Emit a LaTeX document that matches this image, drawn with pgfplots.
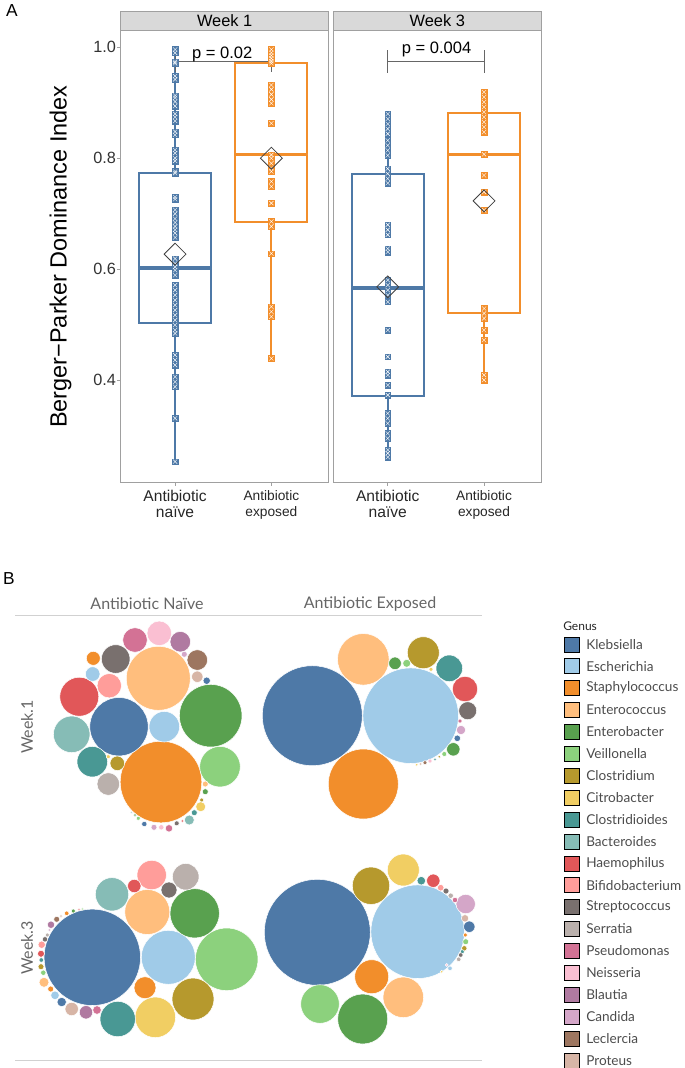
\documentclass[border=0pt]{standalone}
\usepackage{fontspec}
\setmainfont{Liberation Sans}
\newfontfamily\tabfont{Lato}
\usepackage{pgfplots}
\usepackage{pgfplotstable}
\pgfplotsset{compat=1.18}
\usepgfplotslibrary{statistics}

\definecolor{cb}{HTML}{4E79A7}
\definecolor{co}{HTML}{F28E2B}
\definecolor{fr}{HTML}{A0A0A0}
\definecolor{stripc}{HTML}{D9D9D9}
\definecolor{g0}{HTML}{4E79A7}
\definecolor{g1}{HTML}{A0CBE8}
\definecolor{g2}{HTML}{F28E2B}
\definecolor{g3}{HTML}{FFBE7D}
\definecolor{g4}{HTML}{59A14F}
\definecolor{g5}{HTML}{8CD17D}
\definecolor{g6}{HTML}{B6992D}
\definecolor{g7}{HTML}{F1CE63}
\definecolor{g8}{HTML}{499894}
\definecolor{g9}{HTML}{86BCB6}
\definecolor{g10}{HTML}{E15759}
\definecolor{g11}{HTML}{FF9D9A}
\definecolor{g12}{HTML}{79706E}
\definecolor{g13}{HTML}{BAB0AC}
\definecolor{g14}{HTML}{D37295}
\definecolor{g15}{HTML}{FABFD2}
\definecolor{g16}{HTML}{B07AA1}
\definecolor{g17}{HTML}{D4A6C8}
\definecolor{g18}{HTML}{9D7660}
\definecolor{g19}{HTML}{D7B5A6}

% ---------- Panel A data ----------
\pgfplotstableread{
y
0.996
0.990
0.974
0.971
0.948
0.942
0.913
0.909
0.902
0.894
0.880
0.874
0.867
0.848
0.842
0.815
0.809
0.800
0.795
0.776
0.773
0.730
0.726
0.707
0.700
0.691
0.684
0.677
0.671
0.665
0.657
0.619
0.610
0.604
0.598
0.589
0.571
0.562
0.553
0.544
0.535
0.526
0.517
0.508
0.499
0.490
0.484
0.445
0.436
0.427
0.406
0.397
0.388
0.331
0.253
}\wonenaive

\pgfplotstableread{
y
0.996
0.990
0.985
0.980
0.975
0.971
0.932
0.924
0.915
0.906
0.899
0.863
0.806
0.800
0.791
0.782
0.776
0.758
0.749
0.719
0.686
0.677
0.628
0.532
0.523
0.514
0.439
}\woneexp

\pgfplotstableread{
y
0.880
0.871
0.862
0.853
0.844
0.832
0.823
0.814
0.805
0.781
0.772
0.763
0.755
0.680
0.671
0.662
0.637
0.631
0.580
0.571
0.562
0.553
0.541
0.490
0.442
0.415
0.409
0.391
0.373
0.340
0.331
0.322
0.304
0.295
0.274
0.268
0.261
}\wthreenaive

\pgfplotstableread{
y
0.919
0.910
0.901
0.892
0.883
0.874
0.865
0.856
0.847
0.807
0.769
0.739
0.706
0.529
0.520
0.511
0.490
0.472
0.409
0.400
}\wthreeexp

% ---------- Panel B data (pixel coordinates, radius in px, colour class) ----------
\pgfplotstableread{
x y r c
161 782 40.8 c2
158.3 678.3 32 c3
119 726.7 29.2 c0
164.3 726.7 15.3 c1
210.7 715.7 31.3 c4
220 766.7 20.3 c5
71.7 734.3 18.3 c9
79.3 696.7 19.5 c10
109.3 685.7 12.2 c11
92.7 674 7.3 c1
93.3 658.3 7 c2
115.7 659 14.3 c12
135 640 12.3 c14
159.3 633.3 12.3 c15
180.3 641.7 10.3 c16
184.3 654.3 3 c17
197.3 660 10.3 c18
197.3 676.7 5.7 c19
206.7 680.7 3.7 c0
92.3 761.7 15.3 c8
117.3 763.3 7.3 c6
108.3 756.7 2 c7
108.3 784 11.3 c13
205.3 784 3 c3
205.3 791.7 3 c4
201.7 800 2 c6
200.7 806.7 5 c7
194.3 812.7 3 c8
189.3 820 5 c9
182.3 821 1.5 c10
176.7 823.3 2.5 c12
169 828.3 3.7 c14
161.3 827.3 2.7 c15
154 827.3 3 c17
144.3 824 2.7 c0
138.3 818.3 2 c5
135 815 1.5 c4
131.7 812.7 1 c8
312.3 715.7 50 c0
410.7 715.7 47.8 c1
363.3 784 35 c2
363.3 659.3 25.8 c3
423.3 652.7 16 c6
449.3 668.3 13.3 c8
465 689 12.7 c10
467.7 710.7 9 c12
395 663.3 6.3 c4
406.7 663.3 4 c5
431 669.3 2 c7
461 730 4.7 c17
460 721 2 c14
457.3 738.3 3.3 c0
453.3 749.3 6.7 c4
444.3 754 2.5 c5
439.3 756.7 1.5 c6
435 759.3 1.5 c8
430 761 2 c15
425 762.7 2 c18
420.7 764 1.5 c19
416.7 764.7 1.5 c7
92.3 957.3 48.2 c0
168.3 957.3 27 c1
226.7 959.3 31.3 c5
194.7 913.3 24.7 c4
147.3 912 22.5 c3
112 894.3 16.7 c9
151.7 875 14.7 c11
185.7 876.7 13.3 c13
169 890 8 c12
134.3 886 6.7 c10
193 999 21 c6
155.3 1017.3 20.3 c7
117.7 1019 17.7 c8
145 987.7 11 c2
86 1012.3 6.7 c16
97 1010 4.3 c14
71.7 1009 6.7 c19
61.7 1002 4.7 c0
55 995.3 4.3 c1
50.7 989 3 c2
44 982.3 5 c3
43.3 972.7 2.7 c5
41 966.7 3 c6
41.3 960 2.3 c8
41 953.7 3.5 c10
41.7 944.7 3.7 c11
45 939.3 2.7 c12
47.3 935 2 c13
49.3 930 1.5 c17
51 924.7 3.7 c16
56.7 919.3 3 c18
61 916 1.5 c19
66.7 913.3 2.3 c2
73.3 911 2 c4
79 909.3 1.3 c10
82.7 909 1.3 c5
317.3 932.3 53 c0
417.7 931.7 46.8 c1
371 885.7 18.7 c6
403.3 870 16 c7
371.7 976.7 17 c2
403.3 997.3 20.3 c3
362.7 1019 25 c4
320 1004 19.3 c5
465.7 904 9.7 c17
469.3 926.7 5.7 c0
433.3 880.7 6.7 c10
421.3 880.7 4.3 c8
440.7 887.7 3.3 c11
446 891 3 c12
450.7 895.7 2.7 c13
455 900 2.7 c14
465 918.3 3.7 c19
465.3 935 2 c2
465.7 941.7 3 c5
464.3 948.3 2.7 c6
462.3 951.7 2 c8
460.7 955 2.3 c12
458.7 959.3 2.3 c13
450 968.3 2.3 c1
446.7 965 1.5 c15
441.7 971.7 1.5 c7
}\bubbles

\pgfplotstableread{
x y c
572.2 644.3 c0
572.2 666.2 c1
572.2 688.1 c2
572.2 710.0 c3
572.2 731.9 c4
572.2 753.8 c5
572.2 775.7 c6
572.2 797.6 c7
572.2 819.5 c8
572.2 841.4 c9
572.2 863.3 c10
572.2 885.2 c11
572.2 907.1 c12
572.2 929.0 c13
572.2 950.9 c14
572.2 972.8 c15
572.2 994.7 c16
572.2 1016.6 c17
572.2 1038.5 c18
572.2 1060.4 c19
}\swatch

\pgfplotsset{
  panelA/.style={
    scale only axis, width=156pt, height=338.5pt,
    xmin=0.435, xmax=2.595, ymin=0.2157, ymax=1.0294,
    axis line style={fr, line width=0.8pt},
    tick style={fr, line width=0.6pt},
    tick align=outside, major tick length=2.5pt,
    xtick={1,2}, xtick pos=bottom, ytick pos=left,
    xticklabels={{{\fontsize{11.7}{13.5}\selectfont Antibiotic}\\{\fontsize{11.7}{13.5}\selectfont naïve}},{{\fontsize{10.3}{12.5}\selectfont Antibiotic}\\{\fontsize{10.3}{12.5}\selectfont exposed}}},
    xticklabel style={align=center, text=black!85},
    /pgf/number format/assume math mode=true,
    every axis title/.style={at={(0.5,1)}, anchor=south, fill=stripc, draw=fr,
      line width=0.8pt, minimum width=156pt, minimum height=14.5pt, inner sep=0pt,
      font=\fontsize{12.3}{14}\selectfont},
    clip=false,
  },
  pts/.style={only marks, mark=square*, mark size=2.1pt, mark options={fill=#1, draw=#1, line width=0.3pt}},
  ptx/.style={only marks, mark=x, mark size=2.2pt, mark options={draw=white, line width=0.3pt}},
  meanmark/.style={only marks, mark=square, fill=none, mark size=5.8pt, mark options={rotate=45, draw=black!75, line width=0.6pt, fill=none}},
  brk/.style={black!60, line width=0.75pt},
  genus classes/.style={scatter/classes={
    c0={fill=g0}, c1={fill=g1}, c2={fill=g2}, c3={fill=g3}, c4={fill=g4},
    c5={fill=g5}, c6={fill=g6}, c7={fill=g7}, c8={fill=g8}, c9={fill=g9},
    c10={fill=g10}, c11={fill=g11}, c12={fill=g12}, c13={fill=g13}, c14={fill=g14},
    c15={fill=g15}, c16={fill=g16}, c17={fill=g17}, c18={fill=g18}, c19={fill=g19}}},
  bx/.style={line width=1.5pt, fill=white, boxplot/draw direction=y,
    boxplot/every box/.style={line width=1.5pt},
    boxplot/every whisker/.style={line width=1.5pt},
    boxplot/every median/.style={line width=2.6pt}},
}

\begin{document}
\begin{tikzpicture}
\useasboundingbox (0,0) rectangle (513.75pt,-801pt);

% ---------------- Week 1 ----------------
\begin{axis}[panelA, at={(90.5pt,-361.7pt)}, anchor=south west,
  title={Week 1},
  ytick={0.4,0.6,0.8,1.0}, yticklabels={0.4,0.6,0.8,1.0},
  yticklabel style={font=\fontsize{12.2}{14}\selectfont, text=black!80, xshift=2.5pt},
  ylabel={Berger\textminus Parker Dominance Index},
  ylabel style={at={(axis description cs:-0.289,0.5)}, anchor=center, font=\fontsize{17.6}{20}\selectfont},
]
\addplot[bx, draw=cb, boxplot prepared={draw position=1, box extend=0.75, whisker extend=0,
  median=0.602, upper quartile=0.774, lower quartile=0.503, upper whisker=0.998, lower whisker=0.252}] coordinates {};
\addplot[bx, draw=co, boxplot prepared={draw position=2, box extend=0.75, whisker extend=0,
  median=0.807, upper quartile=0.971, lower quartile=0.685, upper whisker=0.998, lower whisker=0.437}] coordinates {};
\addplot[pts=cb] table[x expr=1, y=y] {\wonenaive};
\addplot[ptx] table[x expr=1, y=y] {\wonenaive};
\addplot[pts=co] table[x expr=2, y=y] {\woneexp};
\addplot[ptx] table[x expr=2, y=y] {\woneexp};
\addplot[meanmark] coordinates {(1,0.627) (2,0.800)};
\addplot[brk] coordinates {(1,0.995) (1,0.955)};
\addplot[brk] coordinates {(1,0.975) (2,0.975)};
\addplot[brk] coordinates {(2,0.995) (2,0.955)};
\node[anchor=base, font=\fontsize{12.4}{14}\selectfont, inner sep=0pt] at (axis cs:1.49,0.980) {p = 0.02};
\end{axis}

% ---------------- Week 3 ----------------
\begin{axis}[panelA, at={(250pt,-361.7pt)}, anchor=south west,
  title={Week 3},
  ytick=\empty,
]
\addplot[bx, draw=cb, boxplot prepared={draw position=1, box extend=0.75, whisker extend=0,
  median=0.566, upper quartile=0.771, lower quartile=0.372, upper whisker=0.880, lower whisker=0.259}] coordinates {};
\addplot[bx, draw=co, boxplot prepared={draw position=2, box extend=0.75, whisker extend=0,
  median=0.807, upper quartile=0.882, lower quartile=0.520, upper whisker=0.924, lower whisker=0.397}] coordinates {};
\addplot[pts=cb] table[x expr=1, y=y] {\wthreenaive};
\addplot[ptx] table[x expr=1, y=y] {\wthreenaive};
\addplot[pts=co] table[x expr=2, y=y] {\wthreeexp};
\addplot[ptx] table[x expr=2, y=y] {\wthreeexp};
\addplot[meanmark] coordinates {(1,0.568) (2,0.723)};
\addplot[brk] coordinates {(1,0.995) (1,0.954)};
\addplot[brk] coordinates {(1,0.974) (2,0.974)};
\addplot[brk] coordinates {(2,0.995) (2,0.954)};
\node[anchor=base, font=\fontsize{12.4}{14}\selectfont, inner sep=0pt] at (axis cs:1.507,0.989) {p = 0.004};
\end{axis}

% ---------------- Panel B bubbles ----------------
\begin{axis}[at={(0pt,-416.25pt)}, anchor=north west,
  x=0.75pt, y=0.75pt, y dir=reverse,
  xmin=0, xmax=685, ymin=555, ymax=1068,
  hide axis, clip=false,
]
\addplot[scatter, only marks, mark=*, mark options={draw=white, line width=0.4pt},
  point meta=explicit symbolic, genus classes,
  visualization depends on={\thisrow{r}\as\rad},
  scatter/@pre marker code/.append style={/tikz/mark size=0.75*\rad}]
  table[x=x, y=y, meta=c] {\bubbles};
\addplot[scatter, only marks, mark=square*, mark size=5.6pt, mark options={draw=none},
  point meta=explicit symbolic, genus classes]
  table[x=x, y=y, meta=c] {\swatch};
\end{axis}

% ---------------- text and frame lines ----------------
\begin{scope}[x=0.75pt, y=-0.75pt]
\node[font=\fontsize{13}{15}\selectfont] at (12,11) {A};
\node[font=\fontsize{13}{15}\selectfont] at (9,579) {B};
\draw[black!18, line width=0.75pt] (15,615) -- (482,615);
\draw[black!18, line width=0.75pt] (15,1060) -- (482,1060);
\node[font=\tabfont\fontsize{12}{14}\selectfont, text=black!60] at (147,604) {Antibiotic Naïve};
\node[font=\tabfont\fontsize{12}{14}\selectfont, text=black!60] at (370,604) {Antibiotic Exposed};
\node[font=\tabfont\fontsize{12}{14}\selectfont, text=black!60, rotate=90] at (27,727) {Week.1};
\node[font=\tabfont\fontsize{12}{14}\selectfont, text=black!60, rotate=90] at (27,948) {Week.3};
\node[font=\tabfont\fontsize{9}{11}\selectfont, text=black!85, anchor=west, inner sep=0pt] at (563,626) {Genus};
\begin{scope}[every node/.style={font=\tabfont\fontsize{10.2}{12}\selectfont, text=black!70, anchor=west, inner sep=0pt}]
\node at (586,644.3) {Klebsiella};
\node at (586,666.2) {Escherichia};
\node at (586,688.1) {Staphylococcus};
\node at (586,710.0) {Enterococcus};
\node at (586,731.9) {Enterobacter};
\node at (586,753.8) {Veillonella};
\node at (586,775.7) {Clostridium};
\node at (586,797.6) {Citrobacter};
\node at (586,819.5) {Clostridioides};
\node at (586,841.4) {Bacteroides};
\node at (586,863.3) {Haemophilus};
\node at (586,885.2) {Bifidobacterium};
\node at (586,907.1) {Streptococcus};
\node at (586,929.0) {Serratia};
\node at (586,950.9) {Pseudomonas};
\node at (586,972.8) {Neisseria};
\node at (586,994.7) {Blautia};
\node at (586,1016.6) {Candida};
\node at (586,1038.5) {Leclercia};
\node at (586,1060.4) {Proteus};
\end{scope}
\end{scope}
\end{tikzpicture}
\end{document}
